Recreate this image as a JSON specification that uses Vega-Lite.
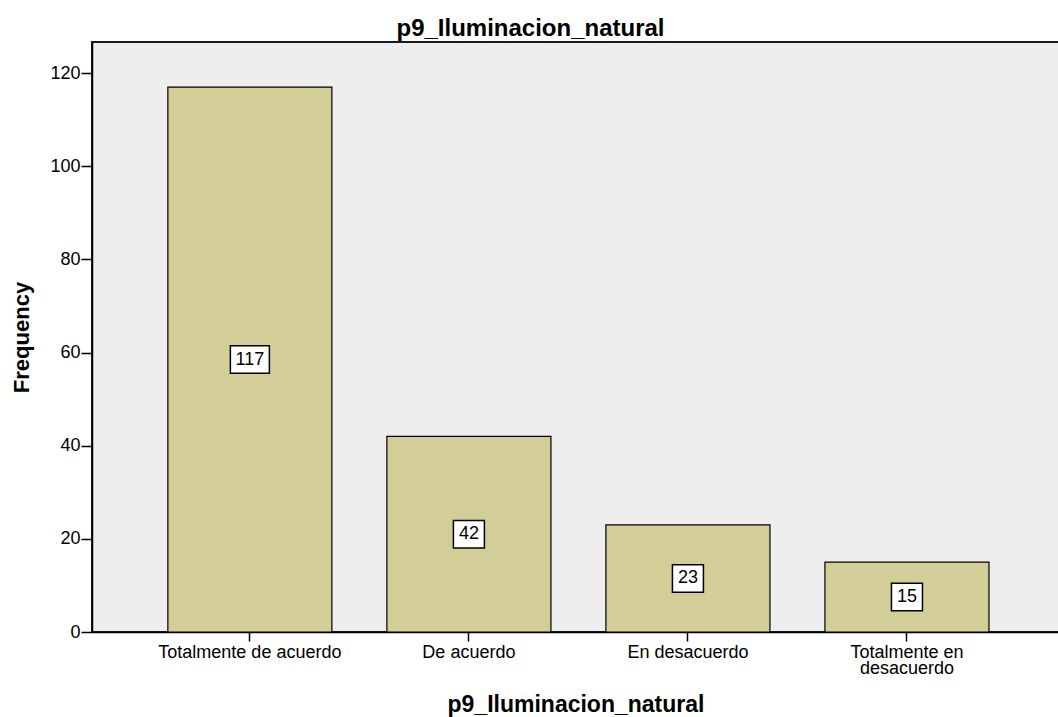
{
  "$schema": "https://vega.github.io/schema/vega-lite/v6.json",
  "width": 967,
  "height": 590,
  "autosize": {"type": "none"},
  "padding": {"left": 92, "top": 42, "right": 0, "bottom": 85},
  "background": "white",
  "config": {
    "font": "Liberation Sans",
    "view": {"fill": "#eeeeee", "stroke": "#1a1a1a", "strokeWidth": 2},
    "axisY": {
      "grid": false,
      "tickSize": 11,
      "tickWidth": 1.5,
      "tickColor": "black",
      "domainColor": "black",
      "domainWidth": 1.5,
      "labelPadding": 1,
      "labelFontSize": 18,
      "labelColor": "black",
      "titleFontSize": 22,
      "titleFontWeight": "bold",
      "titleColor": "black",
      "titleAngle": -90,
      "titleX": -71,
      "titleY": 295,
      "titleAlign": "center",
      "titleBaseline": "middle"
    },
    "axisX": {
      "labelAngle": 0,
      "tickSize": 9,
      "tickWidth": 1.5,
      "tickColor": "black",
      "domainColor": "black",
      "domainWidth": 1.5,
      "labelPadding": 2,
      "labelFontSize": 18,
      "labelColor": "black",
      "labelBaseline": "top",
      "labelLineHeight": 16,
      "labelLimit": 400,
      "titleFontSize": 23,
      "titleFontWeight": "bold",
      "titleColor": "black",
      "titleY": 79,
      "titleBaseline": "alphabetic"
    }
  },
  "title": {
    "text": "p9_Iluminacion_natural",
    "fontSize": 24,
    "fontWeight": "bold",
    "font": "Liberation Sans",
    "color": "black",
    "anchor": "middle",
    "dx": -45,
    "dy": 24,
    "offset": 6,
    "baseline": "alphabetic"
  },
  "data": {
    "values": [
      {"category": "Totalmente de acuerdo", "count": 117},
      {"category": "De acuerdo", "count": 42},
      {"category": "En desacuerdo", "count": 23},
      {"category": "Totalmente en desacuerdo", "count": 15}
    ]
  },
  "encoding": {
    "x": {
      "field": "category",
      "type": "nominal",
      "sort": null,
      "title": "p9_Iluminacion_natural",
      "scale": {"paddingInner": 0.251, "paddingOuter": 0.333, "align": 0.52},
      "axis": {
        "labelExpr": "datum.value == 'Totalmente en desacuerdo' ? ['Totalmente en', 'desacuerdo'] : datum.value"
      }
    }
  },
  "layer": [
    {
      "mark": {"type": "bar", "fill": "#d3ce97", "stroke": "black", "strokeWidth": 1.2},
      "encoding": {
        "y": {
          "field": "count",
          "type": "quantitative",
          "title": "Frequency",
          "scale": {"domain": [0, 126.7], "nice": false},
          "axis": {"values": [0, 20, 40, 60, 80, 100, 120]}
        }
      }
    },
    {
      "transform": [
        {"calculate": "datum.count / 2 - 2.95", "as": "lo"},
        {"calculate": "datum.count / 2 + 2.95", "as": "hi"},
        {"calculate": "length(toString(datum.count)) * 8 + 15", "as": "w"}
      ],
      "mark": {"type": "bar", "fill": "white", "stroke": "black", "strokeWidth": 1.5},
      "encoding": {
        "y": {"field": "lo", "type": "quantitative", "title": "Frequency", "scale": {"domain": [0, 126.7], "nice": false}},
        "y2": {"field": "hi"},
        "size": {"field": "w", "type": "quantitative", "scale": null, "legend": null}
      }
    },
    {
      "transform": [
        {"calculate": "datum.count / 2", "as": "mid"}
      ],
      "mark": {"type": "text", "fontSize": 18, "color": "black", "baseline": "middle", "align": "center", "font": "Liberation Sans"},
      "encoding": {
        "y": {"field": "mid", "type": "quantitative", "title": "Frequency", "scale": {"domain": [0, 126.7], "nice": false}},
        "text": {"field": "count", "type": "quantitative"}
      }
    }
  ]
}
